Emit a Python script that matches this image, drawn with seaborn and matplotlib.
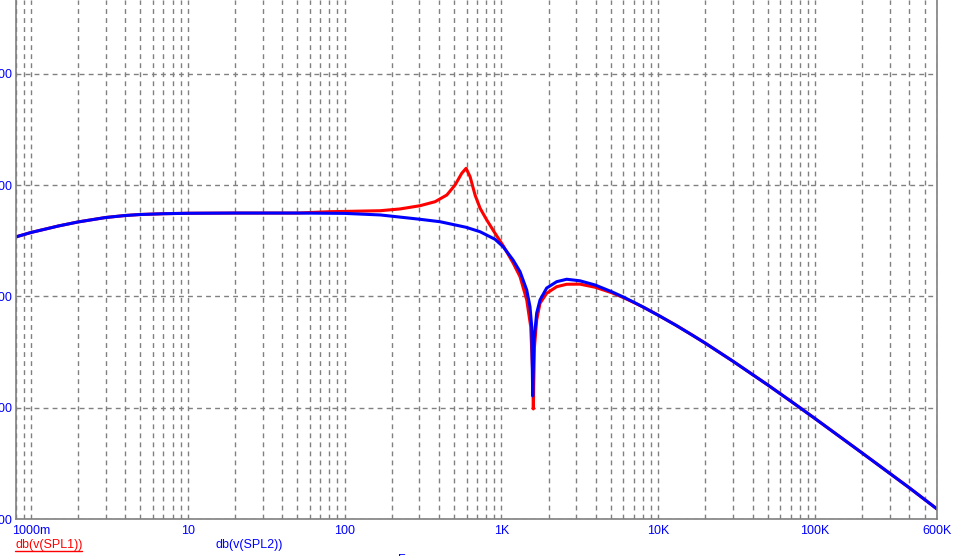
import matplotlib
matplotlib.use("Agg")
import matplotlib.pyplot as plt
from matplotlib.lines import Line2D
from matplotlib.ticker import LogLocator, NullFormatter
import pandas as pd
import seaborn as sns

# -----------------------------
# Datos (Hz, dB)
# -----------------------------
freq_spl1 = [0.8, 1, 1.5, 2, 3, 4, 5, 7, 10, 20, 50, 80,
             169, 226, 303, 378, 449, 507, 559, 596, 632, 680,
             732, 807, 912, 1030, 1192, 1316, 1452, 1539, 1585, 1600,
             1625, 1681, 1765, 1946, 2254, 2610, 3172, 3970, 5050, 6000,
             7000, 8000, 10000, 13000, 16630, 20000, 30000, 50000, 70000, 100000,
             200000, 400000, 600000]
spl1 = [-246.5, -242.5, -236.6, -233.0, -229.0, -227.2, -226.3, -225.6, -225.2, -225.0, -225.0, -223.8,
        -222.9, -221.3, -218.4, -214.8, -208.8, -199.8, -189.3, -184.8, -192.3, -208.8,
        -220.7, -231.2, -243.2, -254.6, -270.2, -282.2, -303.1, -327.1, -368.8, -401.1,
        -346.0, -321.1, -306.1, -297.1, -291.2, -289.0, -288.9, -291.7, -296.6, -301.0,
        -305.4, -309.4, -316.8, -325.9, -335.0, -342.0, -358.2, -379.5, -394.0, -409.7,
        -440.7, -472.0, -491.0]

freq_spl2 = [0.8, 1, 1.5, 2, 3, 4, 5, 7, 10, 20, 50, 100,
             169, 303, 407, 596, 732, 912, 1026, 1188, 1316, 1452,
             1523, 1562, 1585, 1615, 1681, 1765, 1946, 2254, 2610, 3172,
             3970, 5050, 6000, 7000, 8000, 10000, 13000, 16630, 20000, 30000,
             50000, 70000, 100000, 200000, 400000, 600000]
spl2 = [-246.5, -242.5, -236.6, -233.0, -229.0, -227.2, -226.3, -225.6, -225.2, -225.0, -225.0, -225.3,
        -226.7, -230.6, -232.8, -237.8, -241.8, -248.6, -255.2, -267.2, -277.7, -294.2,
        -309.2, -327.1, -389.4, -339.1, -314.8, -303.1, -292.4, -286.7, -284.5, -285.9,
        -289.7, -295.7, -300.5, -305.2, -309.4, -316.8, -325.9, -335.0, -342.0, -358.2,
        -379.5, -394.0, -409.7, -440.7, -472.0, -491.0]

x_ticks = [1, 10, 100, 1e3, 1e4, 1e5, 6e5]
x_tick_labels = ["1000m", "10", "100", "1K", "10K", "100K", "600K"]
y_ticks = [-500, -400, -300, -200, -100]
y_tick_labels = ["-500", "-400", "-300", "-200", "-100"]

# -----------------------------
# Estilo
# -----------------------------
sns.set_style("white")
plt.rcParams["font.family"] = ["Liberation Sans", "DejaVu Sans"]

W, H = 963, 556
fig = plt.figure(figsize=(W / 100, H / 100), dpi=100)
ax = fig.add_axes([15.6 / W, 37 / H, (937 - 15.6) / W, 519 / H])

df1 = pd.DataFrame({"freq": freq_spl1, "db": spl1})
df2 = pd.DataFrame({"freq": freq_spl2, "db": spl2})
sns.lineplot(data=df1, x="freq", y="db", ax=ax, color="#ff0000", lw=2.2)
sns.lineplot(data=df2, x="freq", y="db", ax=ax, color="#0000ff", lw=2.2)

ax.set_xscale("log")
ax.set_xlim(0.799, 600000)
ax.set_ylim(-500, -33.5)
ax.set_xlabel("")
ax.set_ylabel("")

ax.set_xticks(x_ticks)
ax.set_xticklabels(x_tick_labels)
ax.xaxis.set_minor_locator(LogLocator(base=10, subs=range(2, 10), numticks=20))
ax.xaxis.set_minor_formatter(NullFormatter())
ax.set_yticks(y_ticks)
ax.set_yticklabels(y_tick_labels)

ax.tick_params(axis="both", which="both", length=0, colors="#0000ff", labelsize=9)
ax.tick_params(axis="x", pad=4)
ax.tick_params(axis="y", pad=2.5)

grid_kw = dict(color="#808080", lw=1, linestyle=(0, (3.5, 3)))
ax.grid(which="both", axis="x", **grid_kw)
ax.grid(which="major", axis="y", **grid_kw)

for side in ["left", "right", "bottom"]:
    ax.spines[side].set_color("#808080")
    ax.spines[side].set_linewidth(1.2)
ax.spines["top"].set_visible(False)

# -----------------------------
# Etiquetas de trazas
# -----------------------------
t1 = fig.text(15 / W, 1 - 539 / H, "db(v(SPL1))", color="#ff0000", fontsize=9,
              ha="left", va="top")
fig.text(215 / W, 1 - 539 / H, "db(v(SPL2))", color="#0000ff", fontsize=9,
         ha="left", va="top")
fig.text(398 / W, 1 - 554 / H, "Frequency", color="#0000ff", fontsize=9,
         ha="left", va="top")

fig.canvas.draw()
bb = t1.get_window_extent()
fig.add_artist(Line2D([bb.x0 / W, bb.x1 / W], [5.3 / H, 5.3 / H],
                      transform=fig.transFigure, color="#ff0000", lw=1))

fig.savefig("out.png", dpi=100)
plt.close(fig)
